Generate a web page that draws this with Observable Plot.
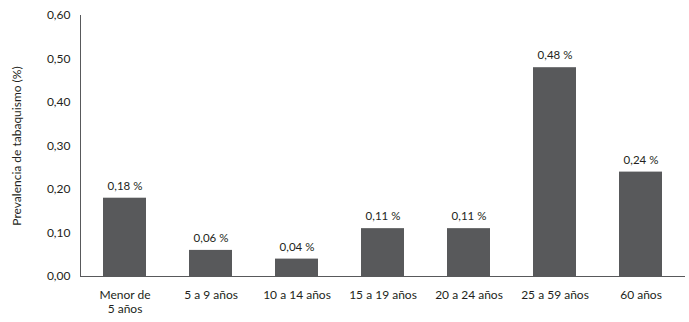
<!DOCTYPE html>
<html>
<head>
<meta charset="utf-8">
<script src="https://cdn.jsdelivr.net/npm/d3@7"></script>
<script src="https://cdn.jsdelivr.net/npm/@observablehq/plot@0.6"></script>
<style>
  html, body { margin: 0; padding: 0; background: #fff; }
  #chart svg { display: block; }
</style>
</head>
<body>
<div id="chart"></div>
<script>
const categories = ["Menor de\n5 años", "5 a 9 años", "10 a 14 años", "15 a 19 años", "20 a 24 años", "25 a 59 años", "60 años"];
const values = [0.18, 0.06, 0.04, 0.11, 0.11, 0.48, 0.24];
const valueLabels = ["0,18 %", "0,06 %", "0,04 %", "0,11 %", "0,11 %", "0,48 %", "0,24 %"];
const yTicks = [0, 0.1, 0.2, 0.3, 0.4, 0.5, 0.6];

const data = categories.map((c, i) => ({cat: c, value: values[i], label: valueLabels[i]}));
const fmt = v => v.toFixed(2).replace(".", ",");

const chart = Plot.plot({
  width: 689,
  height: 322,
  marginTop: 15,
  marginLeft: 80,
  marginRight: 4,
  marginBottom: 46,
  style: {fontFamily: "Lato, sans-serif", fontSize: "12px", color: "#231f20", background: "#fff"},
  x: {domain: categories, paddingInner: 0.5, paddingOuter: 0.25},
  y: {domain: [0, 0.6]},
  marks: [
    Plot.axisX({tickSize: 0, tickPadding: 12, label: null, lineHeight: 1.2}),
    Plot.axisY({ticks: yTicks, tickFormat: fmt, tickSize: 0, tickPadding: 10,
      label: "Prevalencia de tabaquismo (%)", labelAnchor: "center", labelArrow: "none", labelOffset: 68}),
    Plot.barY(data, {x: "cat", y: "value", fill: "#58595b"}),
    Plot.text(data, {x: "cat", y: "value", text: "label", dy: -12, fill: "#231f20", fontSize: 11.5}),
    Plot.ruleY([0], {stroke: "#58595b", strokeWidth: 1}),
    Plot.frame({anchor: "left", stroke: "#58595b"})
  ]
});
document.getElementById("chart").appendChild(chart);
</script>
</body>
</html>
